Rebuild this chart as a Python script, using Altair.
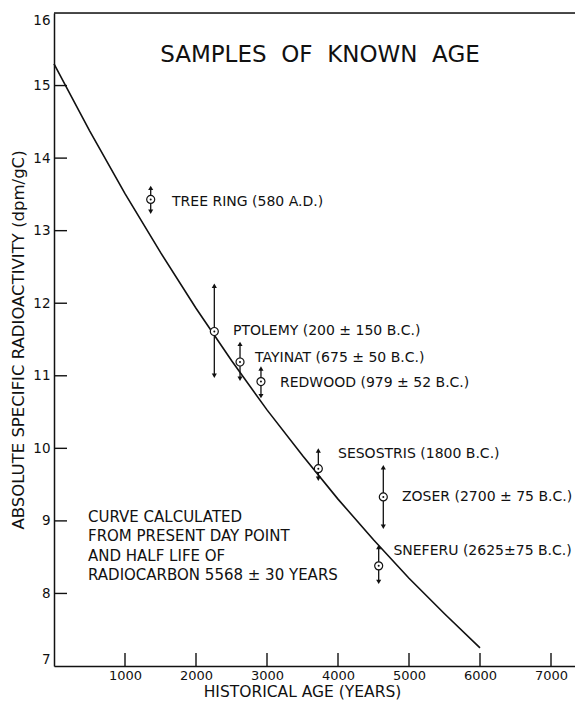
import altair as alt
import pandas as pd

FONT = "DejaVu Sans"
INK = "#111111"
NB = "\u00a0"

# Calculated decay curve (age in years, dpm/gC)
curve_age = [0, 500, 1000, 1500, 2000, 2500, 3000, 3500, 4000, 4500, 5000, 5500, 6000]
curve_act = [15.30, 14.38, 13.51, 12.70, 11.93, 11.21, 10.53, 9.90, 9.30, 8.74, 8.21, 7.72, 7.25]

# Samples of known age
names = ["TREE RING", "PTOLEMY", "TAYINAT", "REDWOOD", "SESOSTRIS", "ZOSER", "SNEFERU"]
sample_age = [1362, 2258, 2620, 2915, 3723, 4638, 4573]
sample_act = [13.43, 11.61, 11.19, 10.92, 9.72, 9.33, 8.38]
sample_lo = [13.26, 11.00, 10.96, 10.72, 9.58, 8.92, 8.16]
sample_hi = [13.59, 12.24, 11.44, 11.10, 9.97, 9.74, 8.64]

label_text = ["TREE RING (580 A.D.)", "PTOLEMY (200 ± 150 B.C.)", "TAYINAT (675 ± 50 B.C.)",
              "REDWOOD (979 ± 52 B.C.)", "SESOSTRIS (1800 B.C.)", "ZOSER (2700 ± 75 B.C.)",
              "SNEFERU (2625±75 B.C.)"]
label_age = [1662, 2521, 2831, 3183, 4000, 4901, 4780]
label_act = [13.40, 11.615, 11.24, 10.90, 9.92, 9.33, 8.58]

note_lines = ["CURVE CALCULATED", "FROM PRESENT DAY POINT", "AND HALF LIFE OF",
              "RADIOCARBON 5568 ± 30 YEARS"]
note_age = [479, 479, 479, 479]
note_act = [9.06, 8.79, 8.52, 8.25]

title_text = [NB.join(["SAMPLES", "", "OF", "", "KNOWN", "", "AGE"])]
title_age = [3746]
title_act = [15.42]

x_ticks = [1000, 2000, 3000, 4000, 5000, 6000, 7000]
y_ticks = [7, 8, 9, 10, 11, 12, 13, 14, 15, 16]
x_domain = [0, 7338]
y_domain = [7, 16]

W, H = 521, 653

curve_df = pd.DataFrame({"age": curve_age, "act": curve_act})
pts_df = pd.DataFrame({"name": names, "age": sample_age, "act": sample_act,
                       "lo": sample_lo, "hi": sample_hi})
lab_df = pd.DataFrame({"age": label_age, "act": label_act, "text": label_text})
note_df = pd.DataFrame({"age": note_age, "act": note_act, "text": note_lines})
title_df = pd.DataFrame({"age": title_age, "act": title_act, "text": title_text})
xt_df = pd.DataFrame({"age": x_ticks})
yt_df = pd.DataFrame({"act": y_ticks[1:-1]})
top_df = pd.DataFrame({"act": [y_domain[1]]})

x_enc = alt.X("age:Q",
              scale=alt.Scale(domain=x_domain, nice=False, zero=False),
              axis=alt.Axis(values=x_ticks, format="d", ticks=False, grid=False,
                            domainColor=INK, domainWidth=1.5, labelFont=FONT,
                            labelFontSize=13, labelColor=INK, labelPadding=3,
                            labelFlush=False,
                            title="HISTORICAL AGE (YEARS)", titleFont=FONT,
                            titleFontSize=15.5, titleFontWeight="normal", titleColor=INK,
                            titleX=248, titleY=25, titleBaseline="middle"))
y_enc = alt.Y("act:Q",
              scale=alt.Scale(domain=y_domain, nice=False, zero=False),
              axis=alt.Axis(values=y_ticks, format="d", ticks=False, grid=False,
                            domainColor=INK, domainWidth=1.5, labelFont=FONT,
                            labelFontSize=13.5, labelColor=INK, labelPadding=4,
                            labelFlush=True,
                            title="ABSOLUTE SPECIFIC RADIOACTIVITY (dpm/gC)", titleFont=FONT,
                            titleFontSize=16.5, titleFontWeight="normal", titleColor=INK,
                            titleX=-28, titleY=H / 2, titleAngle=270,
                            titleBaseline="bottom"))

curve = alt.Chart(curve_df).mark_line(color=INK, strokeWidth=1.6).encode(x=x_enc, y=y_enc)

top_rule = alt.Chart(top_df).mark_rule(color=INK, strokeWidth=1.5).encode(
    y=y_enc, x=alt.value(0), x2=alt.value(W))

yt = alt.Chart(yt_df).mark_rule(color=INK, strokeWidth=1.4).encode(
    y=y_enc, x=alt.value(0), x2=alt.value(13))
xt = alt.Chart(xt_df).mark_rule(color=INK, strokeWidth=1.4).encode(
    x=x_enc, y=alt.value(H), y2=alt.value(H - 13))

err = alt.Chart(pts_df).mark_rule(color=INK, strokeWidth=1.3).encode(
    x=x_enc, y=alt.Y("lo:Q"), y2=alt.Y2("hi:Q"))
up = alt.Chart(pts_df).mark_point(shape="triangle-up", filled=True, color=INK, size=26,
                                  opacity=1).encode(x=x_enc, y=alt.Y("hi:Q"))
down = alt.Chart(pts_df).mark_point(shape="triangle-down", filled=True, color=INK, size=26,
                                    opacity=1).encode(x=x_enc, y=alt.Y("lo:Q"))
ring = alt.Chart(pts_df).mark_point(shape="circle", filled=True, fill="white", stroke=INK,
                                    strokeWidth=1.2, size=64, opacity=1).encode(x=x_enc, y=y_enc)
dot = alt.Chart(pts_df).mark_point(shape="circle", filled=True, color=INK, size=4,
                                   opacity=1).encode(x=x_enc, y=y_enc)

labels = alt.Chart(lab_df).mark_text(align="left", baseline="middle", font=FONT,
                                     fontSize=14, color=INK).encode(
    x=x_enc, y=y_enc, text="text:N")
note = alt.Chart(note_df).mark_text(align="left", baseline="middle", font=FONT,
                                    fontSize=15, color=INK).encode(
    x=x_enc, y=y_enc, text="text:N")
title = alt.Chart(title_df).mark_text(align="center", baseline="middle", font=FONT,
                                      fontSize=23, color=INK).encode(
    x=x_enc, y=y_enc, text="text:N")

chart = alt.layer(curve, top_rule, yt, xt, err, up, down, ring, dot, labels, note, title).properties(
    width=W, height=H,
    padding={"left": 46, "top": 5, "right": 0, "bottom": 34},
    autosize=alt.AutoSizeParams(type="none"),
).configure_view(stroke=None).configure(background="white")

chart.save("out.html", embed_options={"renderer": "svg", "actions": False})
